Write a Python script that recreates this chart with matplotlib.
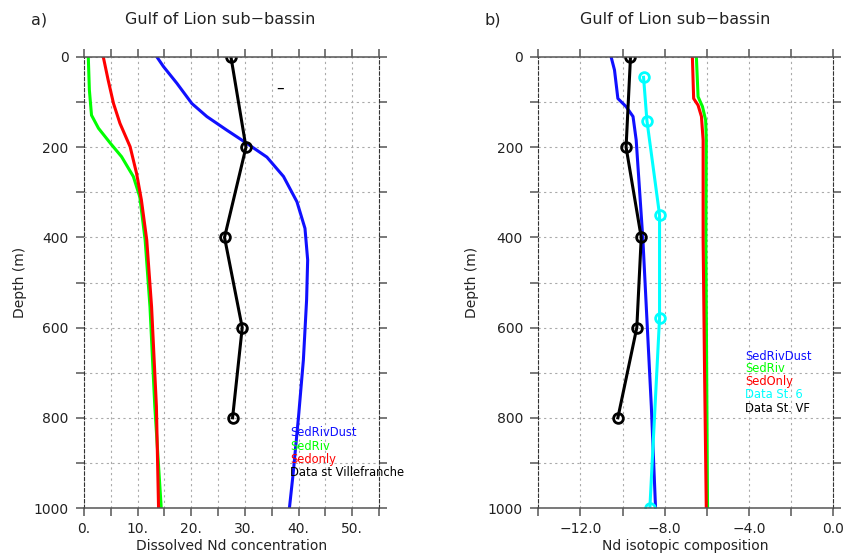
import matplotlib
matplotlib.use("Agg")
import matplotlib.pyplot as plt

# ---- panel a: dissolved Nd concentration ----
dust_a_depth = [0, 21, 58, 103, 132, 162, 191, 222, 265, 321, 380, 450, 539, 672, 797, 923, 1000]
dust_a_nd = [13.6, 14.8, 17.3, 20.1, 22.9, 26.6, 30.3, 34.1, 37.2, 39.7, 41.2, 41.7, 41.5, 40.9, 40.0, 39.0, 38.3]

riv_a_depth = [0, 73, 129, 158, 191, 221, 265, 310, 406, 554, 775, 1000]
riv_a_nd = [0.8, 1.0, 1.4, 2.7, 4.9, 7.0, 9.2, 10.4, 11.4, 12.3, 13.2, 14.4]

sed_a_depth = [0, 51, 103, 147, 199, 258, 317, 406, 554, 775, 1000]
sed_a_nd = [3.6, 4.5, 5.5, 6.7, 8.6, 9.8, 10.7, 11.7, 12.6, 13.5, 13.9]

vf_a_depth = [0, 200, 400, 600, 800]
vf_a_nd = [27.4, 30.2, 26.2, 29.5, 27.7]

# ---- panel b: Nd isotopic composition ----
dust_b_depth = [0, 29, 92, 110, 132, 184, 295, 406, 554, 775, 1000]
dust_b_eps = [-10.54, -10.38, -10.22, -9.83, -9.5, -9.35, -9.19, -9.03, -8.87, -8.63, -8.43]

riv_b_depth = [0, 88, 110, 140, 184, 406, 702, 1000]
riv_b_eps = [-6.49, -6.41, -6.2, -6.05, -6.02, -6.04, -6.0, -5.96]

sed_b_depth = [0, 92, 107, 132, 184, 406, 702, 1000]
sed_b_eps = [-6.68, -6.62, -6.41, -6.25, -6.17, -6.17, -6.1, -6.02]

st6_depth = [45, 141, 350, 579, 1000]
st6_eps = [-9.0, -8.84, -8.24, -8.24, -8.7]

vf_b_depth = [0, 200, 400, 600, 800]
vf_b_eps = [-9.62, -9.83, -9.11, -9.32, -10.22]

W, H = 845, 558
fig = plt.figure(figsize=(W / 100, H / 100), dpi=100)
txt = "#222222"
lw = 2.2


def style(ax, xticks, xlabels, xlim, ylab_x):
    ax.set_ylim(1000, 0)
    ax.set_xlim(*xlim)
    ax.set_xticks(xticks)
    ax.set_xticklabels(xlabels)
    ax.set_yticks(range(0, 1001, 100))
    ax.set_yticklabels([str(v) if v % 200 == 0 else "" for v in range(0, 1001, 100)])
    ax.tick_params(direction="out", length=6, width=1.1, color="#555555",
                   top=True, right=True, labelsize=10, labelcolor=txt)
    ax.tick_params(axis="y", pad=5)
    ax.tick_params(axis="x", pad=4)
    ax.grid(True, linestyle=(0, (2, 3)), color="#aaaaaa", lw=0.8)
    for s in ["top", "bottom"]:
        ax.spines[s].set_color("#555555")
        ax.spines[s].set_linewidth(1.1)
    for s in ["left", "right"]:
        ax.spines[s].set_linestyle((0, (3, 2)))
        ax.spines[s].set_color("#333333")
    ax.set_ylabel("Depth (m)", fontsize=10, color=txt)
    ax.yaxis.label.set_va("center")
    ax.yaxis.set_label_coords(ylab_x, 0.5)


mk = dict(marker="o", markersize=7, markerfacecolor="none", markeredgewidth=2)

# panel a
axa = fig.add_axes([84 / W, 1 - 508 / H, 295 / W, 451 / H])
axa.plot(dust_a_nd, dust_a_depth, color="#1010ff", lw=lw)
axa.plot(riv_a_nd, riv_a_depth, color="#00ff00", lw=lw)
axa.plot(sed_a_nd, sed_a_depth, color="#ff0000", lw=lw)
axa.plot(vf_a_nd, vf_a_depth, color="black", lw=lw, **mk)
xa = list(range(0, 56, 5))
style(axa, xa, [f"{v}." if v % 10 == 0 else "" for v in xa], (0, 55), (20 - 84) / 295)
axa.set_xlabel("Dissolved Nd concentration", fontsize=10, color=txt, labelpad=2)

# panel b
axb = fig.add_axes([538.3 / W, 1 - 508 / H, 294.7 / W, 451 / H])
axb.plot(dust_b_eps, dust_b_depth, color="#1010ff", lw=lw)
axb.plot(riv_b_eps, riv_b_depth, color="#00ff00", lw=lw)
axb.plot(sed_b_eps, sed_b_depth, color="#ff0000", lw=lw)
axb.plot(st6_eps, st6_depth, color="#00ffff", lw=lw, **mk)
axb.plot(vf_b_eps, vf_b_depth, color="black", lw=lw, **mk)
xb = list(range(-14, 1, 2))
style(axb, xb, [f"{v:.1f}".replace("-", "\u2212") if v % 4 == 0 else "" for v in xb], (-14, 0),
      (472 - 538.3) / 294.7)
axb.set_xlabel("Nd isotopic composition", fontsize=10, color=txt, labelpad=2)

# titles
fig.text(220 / W, 1 - 20 / H, "Gulf of Lion sub\u2212bassin", ha="center", va="center", fontsize=11.5, color=txt)
fig.text(31 / W, 1 - 20 / H, "a)", ha="left", va="center", fontsize=11.5, color=txt)
fig.text(675 / W, 1 - 20 / H, "Gulf of Lion sub\u2212bassin", ha="center", va="center", fontsize=11.5, color=txt)
fig.text(485 / W, 1 - 20 / H, "b)", ha="left", va="center", fontsize=11.5, color=txt)
fig.text(280 / W, 1 - 88 / H, "\u2013", ha="center", va="center", fontsize=11, color="black")

# legend texts
leg_a = [("SedRivDust", "#1010ff"), ("SedRiv", "#00ff00"), ("Sedonly", "#ff0000"),
         ("Data st Villefranche", "black")]
for i, (t, c) in enumerate(leg_a):
    fig.text(290 / W, 1 - (433 + 13 * i) / H, t, color=c, fontsize=8.3, va="center", ha="left")

leg_b = [("SedRivDust", "#1010ff"), ("SedRiv", "#00ff00"), ("SedOnly", "#ff0000"),
         ("Data St. 6", "#00ffff"), ("Data St. VF", "black")]
for i, (t, c) in enumerate(leg_b):
    fig.text(745 / W, 1 - (356 + 13 * i) / H, t, color=c, fontsize=8.3, va="center", ha="left")

fig.savefig("out.png", dpi=100)
